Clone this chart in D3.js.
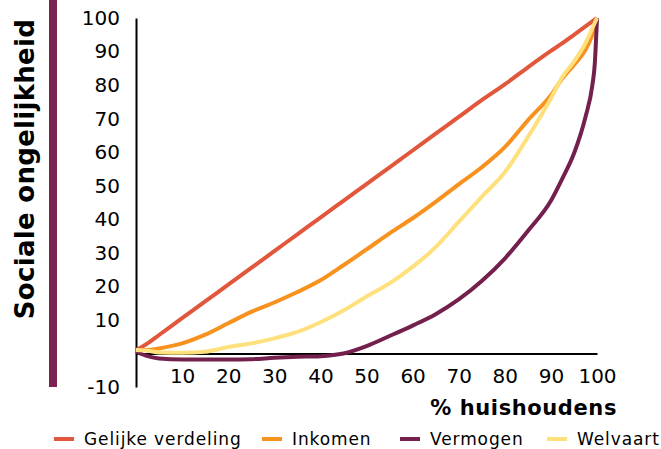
<!DOCTYPE html>
<html>
<head>
<meta charset="utf-8">
<script src="https://cdn.jsdelivr.net/npm/d3@7"></script>
<style>
  body { margin: 0; background: #fff; }
  text { font-family: "DejaVu Sans", Verdana, sans-serif; }
</style>
</head>
<body>
<div class="chart"></div>
<script>
// % huishoudens (x) en cumulatieve waarden per reeks
const pct       = [0, 2.5, 5, 10, 15, 20, 25, 30, 35, 40, 45, 50, 55, 60, 65, 70, 75, 80, 85, 90, 92.5, 95, 97.5, 99, 99.5, 100]
const gelijke   = [1, 3, 5.5, 10.5, 15.5, 20.5, 25.5, 30.5, 35.5, 40.5, 45.5, 50.5, 55.5, 60.5, 65.5, 70.5, 75.5, 80.2, 85.3, 90.2, 92.5, 95, 97.5, 99, 99.5, 100]
const inkomen   = [1, 1, 1.5, 3, 5.6, 9, 12.4, 15.2, 18.3, 21.8, 26.3, 31, 35.8, 40.3, 45.2, 50.4, 55.5, 61.5, 69.5, 77, 82, 86, 90.5, 95, 97, 100]
const vermogen  = [0.5, -0.8, -1.5, -1.8, -1.8, -1.8, -1.7, -1.3, -1, -0.8, 0, 2.2, 5.2, 8.3, 11.7, 16.1, 21.6, 28.3, 36.5, 45.5, 52.2, 59.6, 70.5, 80, 86, 100]
const welvaart  = [1, 0.8, 0.3, 0.2, 0.5, 1.9, 3, 4.5, 6.4, 9.3, 12.8, 17, 20.9, 25.8, 31.7, 39.2, 46.7, 54, 64.5, 76, 82.5, 87, 92.5, 97, 98.5, 100]

const seriesNames = ['Gelijke verdeling', 'Inkomen', 'Vermogen', 'Welvaart']
const seriesValues = [gelijke, inkomen, vermogen, welvaart]
const colors = ['#e2573b', '#f8921e', '#74204d', '#fee07c']

const xTicks = [10, 20, 30, 40, 50, 60, 70, 80, 90, 100]
const yTicks = [-10, 10, 20, 30, 40, 50, 60, 70, 80, 90, 100]

const width = 661
const height = 449
const margin = {top: 18, right: 64, bottom: 62, left: 136}
const graphWidth = width - margin.left - margin.right
const graphHeight = height - margin.top - margin.bottom

const svg = d3.select('.chart')
  .append('svg')
  .attr('width', width)
  .attr('height', height)

const graph = svg.append('g')
  .attr('transform', `translate(${margin.left}, ${margin.top})`)

const xScale = d3.scaleLinear()
  .domain([0, 100])
  .range([0, graphWidth])

const yScale = d3.scaleLinear()
  .domain([-10, 100])
  .range([graphHeight, 0])

// maroon bar next to the y title
svg.append('rect')
  .attr('x', 49)
  .attr('y', 0)
  .attr('width', 8)
  .attr('height', margin.top + graphHeight)
  .attr('fill', '#7b2252')

const yAxis = d3.axisLeft(yScale)
  .tickValues(yTicks)
  .tickFormat(d => String(d))
  .tickSize(0)
  .tickPadding(16)

const xAxis = d3.axisBottom(xScale)
  .tickValues(xTicks)
  .tickFormat(d => String(d))
  .tickSize(0)
  .tickPadding(15)

const yAxisGroup = graph.append('g').call(yAxis)
const xAxisGroup = graph.append('g')
  .attr('transform', `translate(0, ${yScale(0)})`)
  .call(xAxis)

;[xAxisGroup, yAxisGroup].forEach(g => {
  g.select('.domain').attr('stroke', '#000').attr('stroke-width', 2)
  g.selectAll('text')
    .attr('fill', '#000')
    .attr('font-family', '"DejaVu Sans", Verdana, sans-serif')
    .attr('font-size', '20px')
})

const line = d3.line()
  .x((d, i) => xScale(pct[i]))
  .y(d => yScale(d))
  .curve(d3.curveMonotoneX)

graph.selectAll('path.serie')
  .data(seriesValues)
  .enter()
  .append('path')
  .attr('class', 'serie')
  .attr('d', d => line(d))
  .attr('fill', 'none')
  .attr('stroke', (d, i) => colors[i])
  .attr('stroke-width', 4)
  .attr('stroke-linejoin', 'round')

// titles
svg.append('text')
  .text('% huishoudens')
  .attr('x', 617)
  .attr('y', 415)
  .attr('text-anchor', 'end')
  .attr('font-weight', 'bold')
  .attr('font-size', '21px')
  .attr('letter-spacing', '0.6px')

svg.append('text')
  .text('Sociale ongelijkheid')
  .attr('transform', 'translate(34, 169) rotate(-90)')
  .attr('text-anchor', 'middle')
  .attr('font-weight', 'bold')
  .attr('font-size', '26px')
  .attr('letter-spacing', '0.3px')

// legend
const legendX = [54, 262, 400, 547]
const legend = svg.append('g')
  .attr('transform', 'translate(0, 439)')

const items = legend.selectAll('g')
  .data(seriesNames)
  .enter()
  .append('g')
  .attr('transform', (d, i) => `translate(${legendX[i]}, 0)`)

items.append('line')
  .attr('x1', 0)
  .attr('x2', 20)
  .attr('stroke', (d, i) => colors[i])
  .attr('stroke-width', 4)

items.append('text')
  .text(d => d)
  .attr('x', 30)
  .attr('dy', '0.35em')
  .attr('font-size', '17px')
  .attr('letter-spacing', '0.9px')
  .attr('fill', '#000')
</script>
</body>
</html>
